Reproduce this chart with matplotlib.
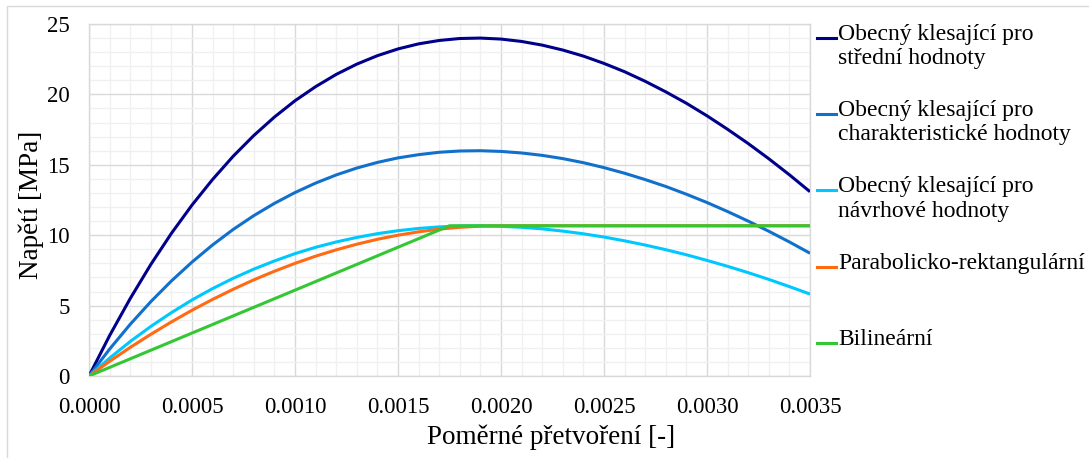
import matplotlib
matplotlib.use("Agg")
import matplotlib.pyplot as plt
from matplotlib.lines import Line2D
from matplotlib.patches import Rectangle
from matplotlib.ticker import MultipleLocator, FormatStrFormatter

plt.rcParams.update({"font.family": ["Liberation Serif", "DejaVu Serif"],
                     "axes.unicode_minus": False})

# pomerne pretvoreni (krok 0.0001) pro obecne klesajici diagramy
EPS = [i / 10000 for i in range(36)]
MEAN = [0.00, 2.87, 5.50, 7.92, 10.13, 12.14, 13.96, 15.61, 17.08, 18.39, 19.55, 20.55,
        21.42, 22.15, 22.75, 23.23, 23.59, 23.83, 23.97, 24.00, 23.93, 23.76, 23.50, 23.15,
        22.72, 22.20, 21.61, 20.93, 20.18, 19.37, 18.48, 17.52, 16.51, 15.43, 14.29, 13.09]
CHAR = [0.00, 1.91, 3.67, 5.28, 6.75, 8.09, 9.31, 10.41, 11.39, 12.26, 13.03, 13.70,
        14.28, 14.77, 15.17, 15.49, 15.72, 15.89, 15.98, 16.00, 15.95, 15.84, 15.67, 15.44,
        15.15, 14.80, 14.40, 13.95, 13.46, 12.91, 12.32, 11.68, 11.00, 10.28, 9.52, 8.72]
DESIGN = [0.00, 1.27, 2.45, 3.52, 4.50, 5.40, 6.21, 6.94, 7.59, 8.17, 8.69, 9.14,
          9.52, 9.84, 10.11, 10.32, 10.48, 10.59, 10.65, 10.67, 10.63, 10.56, 10.45, 10.29,
          10.10, 9.87, 9.60, 9.30, 8.97, 8.61, 8.21, 7.79, 7.34, 6.86, 6.35, 5.82]

# parabolicko-rektangularni
EPS_PR = [i / 10000 for i in range(21)] + [0.0035]
PARAB = [0.00, 1.04, 2.03, 2.96, 3.84, 4.67, 5.44, 6.16, 6.83, 7.44, 8.00, 8.51,
         8.96, 9.36, 9.71, 10.00, 10.24, 10.43, 10.56, 10.64, 10.67, 10.67]

# bilinearni
EPS_BI = [0.0, 0.00175, 0.0035]
BILIN = [0.0, 10.67, 10.67]

LABELS = ["Obecný klesající pro\nstřední hodnoty",
          "Obecný klesající pro\ncharakteristické hodnoty",
          "Obecný klesající pro\nnávrhové hodnoty",
          "Parabolicko-rektangulární",
          "Bilineární"]
COLORS = ["#00008B", "#1170CC", "#00C8FF", "#FF6A13", "#33C733"]

W, H = 1089, 458
fig = plt.figure(figsize=(W / 100, H / 100), dpi=100)
ax = fig.add_axes([89 / W, 1 - 376 / H, (810 - 89) / W, (376 - 24) / H])

series = [(EPS, MEAN), (EPS, CHAR), (EPS, DESIGN), (EPS_PR, PARAB), (EPS_BI, BILIN)]
for (xs, ys), c in zip(series, COLORS):
    ax.plot(xs, ys, color=c, lw=2.2, solid_capstyle="butt", zorder=3)

ax.set_xlim(0, 0.0035)
ax.set_ylim(0, 25)
ax.xaxis.set_major_locator(MultipleLocator(0.0005))
ax.xaxis.set_minor_locator(MultipleLocator(0.0001))
ax.yaxis.set_major_locator(MultipleLocator(5))
ax.yaxis.set_minor_locator(MultipleLocator(1))
ax.xaxis.set_major_formatter(FormatStrFormatter("%.4f"))
ax.grid(True, which="major", color="#D9D9D9", lw=1.0)
ax.grid(True, which="minor", color="#F0F0F0", lw=1.0)
ax.set_axisbelow(True)
for s in ax.spines.values():
    s.set_color("#D9D9D9")
    s.set_linewidth(1.0)
ax.tick_params(which="both", length=0, labelsize=16.5, colors="#000000")
ax.tick_params(axis="y", pad=14)
ax.tick_params(axis="x", pad=15)
# titulek osy x je v Excelu vystredeny na cely graf, ne na plochu grafu
ax.set_xlabel("Poměrné přetvoření [-]", fontsize=19.5, va="top")
ax.xaxis.set_label_coords((551 - 89) / 721, (376 - 424) / 352)
ax.set_ylabel("Napětí [MPa]", fontsize=19.5)
ax.yaxis.set_label_coords((44 - 89) / 721, (376 - 205) / 352)

# legenda vpravo (rucne, znacka u prvniho radku)
for i, (lab, c) in enumerate(zip(LABELS, COLORS)):
    yl = 38 + 76.2 * i
    fig.add_artist(Line2D([817 / W, 836 / W], [1 - yl / H, 1 - yl / H], color=c, lw=2.2))
    fig.text(838 / W, 1 - (yl - 14) / H, lab, fontsize=17, va="top", ha="left",
             linespacing=1.2)

# ramecek grafu
fig.add_artist(Rectangle((7 / W, -0.05), 1.1, 1.05 - 6 / H, transform=fig.transFigure,
                         fill=False, edgecolor="#D9D9D9", lw=1.0))

fig.savefig("out.png", dpi=100)
